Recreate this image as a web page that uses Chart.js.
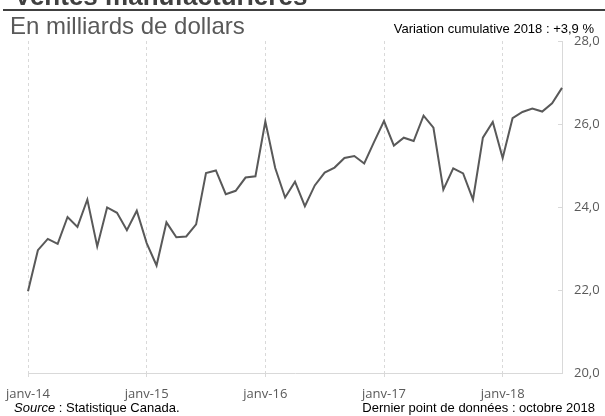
<!DOCTYPE html>
<html lang="fr">
<head>
<meta charset="utf-8">
<script src="https://cdn.jsdelivr.net/npm/chart.js@4/dist/chart.umd.min.js"></script>
<style>
    html, body { margin: 0; padding: 0; background: #fff; }
    #wrap { position: relative; width: 605px; height: 416px; }
</style>
</head>
<body>
<div id="wrap"><canvas id="salesChart" width="605" height="416"></canvas></div>
<script>
// Ventes manufacturières - monthly, billions of dollars (Jan 2014 .. Jul 2018)
const monthNames = ['janv', 'févr', 'mars', 'avr', 'mai', 'juin', 'juil', 'août', 'sept', 'oct', 'nov', 'déc'];
const years = ['14', '15', '16', '17', '18'];
const monthsIn2018 = 7;

const salesValues = [
    21.97, 22.96, 23.23, 23.11, 23.76, 23.52, 24.18, 23.05, 23.99, 23.86, 23.44, 23.91,
    23.13, 22.59, 23.63, 23.27, 23.29, 23.58, 24.82, 24.88, 24.31, 24.39, 24.71, 24.74,
    26.06, 24.94, 24.23, 24.61, 24.02, 24.52, 24.83, 24.95, 25.18, 25.23, 25.05, 25.57,
    26.07, 25.48, 25.67, 25.59, 26.20, 25.91, 24.42, 24.93, 24.81, 24.18, 25.67, 26.05,
    25.18, 26.14, 26.29, 26.37, 26.30, 26.50, 26.87
];

const yTicks = [20, 22, 24, 26, 28];

const titleText = 'Ventes manufacturières';
const subtitleText = 'En milliards de dollars';
const variationText = 'Variation cumulative 2018 : +3,9 %';
const lastPointText = 'Dernier point de données : octobre 2018';

// build category labels
const monthLabels = [];
years.forEach(function(yr, i) {
    const count = (i === years.length - 1) ? monthsIn2018 : 12;
    for (let m = 0; m < count; m++) {
        monthLabels.push(monthNames[m] + '-' + yr);
    }
});

const gridGray = '#d9d9d9';
const textGray = '#595959';

// Titles and notes drawn straight onto the canvas
const textPlugin = {
    id: 'textPlugin',
    afterDraw(chart) {
        const ctx = chart.ctx;
        ctx.save();
        ctx.textBaseline = 'alphabetic';
        ctx.textAlign = 'left';

        ctx.fillStyle = '#404040';
        ctx.font = 'bold 26px "Liberation Sans", Arial, sans-serif';
        ctx.fillText(titleText, 14, 5);

        ctx.strokeStyle = '#404040';
        ctx.lineWidth = 2;
        ctx.beginPath();
        ctx.moveTo(3, 10);
        ctx.lineTo(605, 10);
        ctx.stroke();

        ctx.fillStyle = textGray;
        ctx.font = '24px "Liberation Sans", Arial, sans-serif';
        ctx.fillText(subtitleText, 10, 34);

        ctx.fillStyle = '#000';
        ctx.font = '13px "Liberation Sans", Arial, sans-serif';
        ctx.textAlign = 'right';
        ctx.fillText(variationText, 594, 33);
        ctx.fillText(lastPointText, 595, 412);

        ctx.textAlign = 'left';
        ctx.font = 'italic 13px "Liberation Sans", Arial, sans-serif';
        ctx.fillText('Source', 14, 412);
        const w = ctx.measureText('Source').width;
        ctx.font = '13px "Liberation Sans", Arial, sans-serif';
        ctx.fillText(' : Statistique Canada.', 14 + w, 412);

        // small inward tick marks on the right axis
        const yScale = chart.scales.y;
        const axisX = chart.chartArea.right;
        ctx.strokeStyle = gridGray;
        ctx.lineWidth = 1;
        yScale.ticks.forEach(function(t) {
            const py = Math.round(yScale.getPixelForValue(t.value)) + 0.5;
            ctx.beginPath();
            ctx.moveTo(axisX - 4, py);
            ctx.lineTo(axisX, py);
            ctx.stroke();
        });
        ctx.restore();
    }
};

function isJanuary(index) {
    return index % 12 === 0;
}

const ctx = document.getElementById('salesChart');
new Chart(ctx, {
    type: 'line',
    data: {
        labels: monthLabels,
        datasets: [{
            data: salesValues,
            borderColor: textGray,
            borderWidth: 2,
            pointRadius: 0,
            tension: 0,
            fill: false
        }]
    },
    options: {
        responsive: false,
        animation: false,
        devicePixelRatio: 1,
        layout: { padding: { left: 28, top: 41, right: 0, bottom: 0 } },
        plugins: { legend: { display: false }, tooltip: { enabled: false } },
        scales: {
            x: {
                type: 'category',
                offset: false,
                afterFit: function(scale) {
                    scale.height = 43;
                    scale.paddingLeft = 0;
                    scale.paddingRight = 0;
                },
                grid: {
                    color: c => isJanuary(c.index) ? gridGray : 'transparent',
                    tickColor: c => isJanuary(c.index) ? gridGray : 'transparent',
                    tickLength: 4,
                    lineWidth: 1
                },
                border: { color: gridGray, dash: [3, 3] },
                ticks: {
                    autoSkip: false,
                    maxRotation: 0,
                    padding: 9,
                    color: textGray,
                    font: { family: '"Open Sans", sans-serif', size: 13 },
                    callback: function(val, index) {
                        return isJanuary(index) ? this.getLabelForValue(val) : '';
                    }
                }
            },
            y: {
                position: 'right',
                min: yTicks[0],
                max: yTicks[yTicks.length - 1],
                afterFit: function(scale) { scale.width = 43; },
                afterBuildTicks: function(scale) {
                    scale.ticks = yTicks.map(v => ({ value: v }));
                },
                grid: { display: false, drawTicks: false },
                border: { color: gridGray },
                ticks: {
                    padding: 12,
                    color: textGray,
                    font: { family: '"Open Sans", sans-serif', size: 13 },
                    callback: v => v.toFixed(1).replace('.', ',')
                }
            }
        }
    },
    plugins: [textPlugin]
});
</script>
</body>
</html>
